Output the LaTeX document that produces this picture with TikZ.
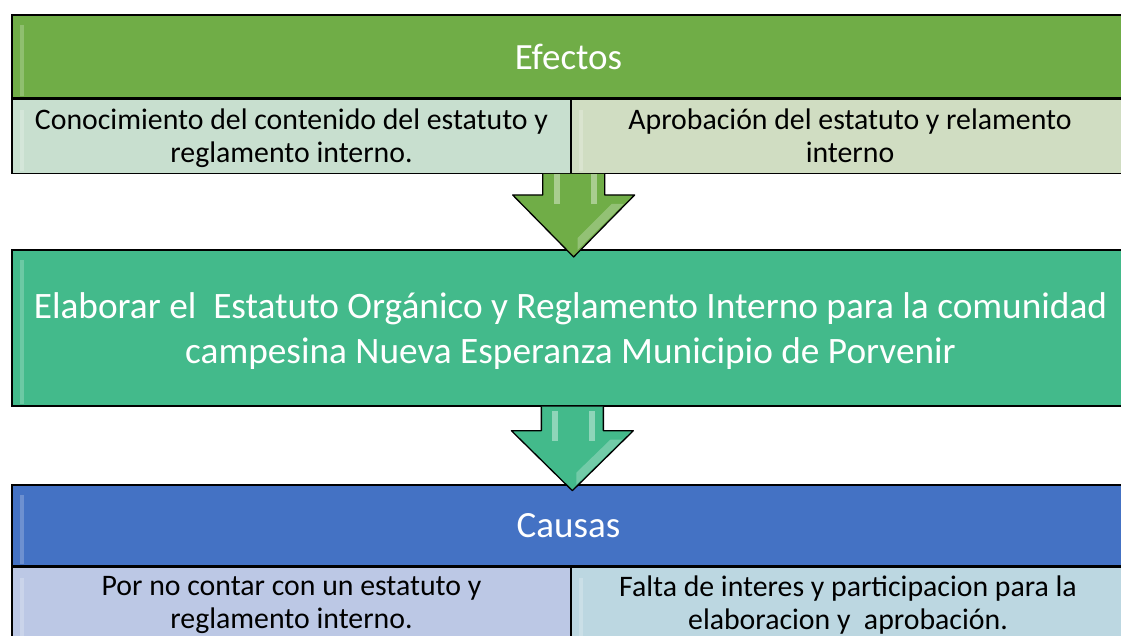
\documentclass[tikz,border=0pt]{standalone}
\usepackage{fontspec}
\setmainfont{Carlito}
\usetikzlibrary{calc}
\definecolor{ghead}{HTML}{70AD47}
\definecolor{gsubl}{HTML}{C8DFCF}
\definecolor{gsubr}{HTML}{D0DDC2}
\definecolor{teal}{HTML}{43BA8B}
\definecolor{bhead}{HTML}{4472C4}
\definecolor{bsubl}{HTML}{BCC8E5}
\definecolor{bsubr}{HTML}{BCD7E1}
\tikzset{
  cell/.style={draw=black, line width=1.3pt, inner sep=0pt, align=center},
  headcell/.style={cell, text=white, font=\fontsize{37}{42}\selectfont},
  subcell/.style={cell, text=black, font=\fontsize{29.8}{33}\selectfont},
  midtext/.style={inner sep=0pt, align=center, text=white, font=\fontsize{37.3}{45}\selectfont},
  arrowfill/.style={line width=1.3pt, line join=round},
  shine/.style={white, opacity=0.22},
}
\begin{document}
\begin{tikzpicture}[x=1pt,y=-1pt]
\useasboundingbox (0,0) rectangle (1121,635);
% Effects block
\node[headcell, fill=ghead, minimum width=1113pt, minimum height=83pt] (efh) at (568.5,56.5) {Efectos};
\node[subcell, fill=gsubl, minimum width=559pt, minimum height=74pt, anchor=north] (efl) at (efh.south -| 291.5,0) {};
\node[subcell, fill=gsubr, minimum width=554pt, minimum height=74pt, anchor=north] (efr) at (efh.south -| 848,0) {};
\node[subcell, draw=none, fill=none] (efltxt) at ($(efl.center)+(0,2)$) {Conocimiento del contenido del estatuto y\\reglamento interno.};
\node[subcell, draw=none, fill=none] (efrtxt) at ($(efr.center)+(2,-1)$) {Aprobación del estatuto y relamento\\interno};
% Middle block
\node[cell, fill=teal, minimum width=1113pt, minimum height=156pt] (mid) at (568.5,328) {};
\node[midtext] (midtxt) at ($(mid.center)+(2,3)$) {Elaborar el\ \ Estatuto Orgánico y Reglamento Interno para la comunidad\\campesina Nueva Esperanza Municipio de Porvenir};
% Causes block
\node[headcell, fill=bhead, minimum width=1113pt, minimum height=81pt] (cah) at (568.5,525.5) {Causas};
\node[subcell, fill=bsubl, minimum width=559pt, minimum height=76pt, anchor=north] (cal) at (cah.south -| 291.5,0) {Por no contar con un estatuto y\\reglamento interno.};
\node[subcell, fill=bsubr, minimum width=554pt, minimum height=76pt, anchor=north] (car) at (cah.south -| 848,0) {Falta de interes y participacion para la\\elaboracion y\ \ aprobación.};
% bevel highlights
\foreach \n in {efh,efl,efr,mid,cah,cal,car}{
  \fill[shine] ($(\n.north west)+(9,11)$) rectangle ($(\n.south west)+(13,-3)$);
}
% Arrow 1
\coordinate (a1) at ($(efl.south east)+(2,0)$);
\fill[ghead] ($(a1)+(-31,0)$) -- ($(a1)+(-31,21)$) -- ($(a1)+(-61,21)$) -- ($(a1)+(0,83)$) -- ($(a1)+(61,21)$) -- ($(a1)+(31,21)$) -- ($(a1)+(31,0)$) -- cycle;
\fill[white, opacity=0.4] ($(a1)+(-20,0)$) rectangle ($(a1)+(-14,30)$);
\fill[white, opacity=0.4] ($(a1)+(17,0)$) rectangle ($(a1)+(23,30)$);
\fill[white, opacity=0.25] ($(a1)+(38,30)$) -- ($(a1)+(50,30)$) -- ($(a1)+(4,76)$) -- ($(a1)+(4,64)$) -- cycle;
\draw[arrowfill] ($(a1)+(-31,0)$) -- ($(a1)+(-31,21)$) -- ($(a1)+(-61,21)$) -- ($(a1)+(0,83)$) -- ($(a1)+(61,21)$) -- ($(a1)+(31,21)$) -- ($(a1)+(31,0)$);
% Arrow 2
\coordinate (a2) at ($(mid.south west)+(561,0)$);
\fill[teal] ($(a2)+(-31,0)$) -- ($(a2)+(-31,24)$) -- ($(a2)+(-61,24)$) -- ($(a2)+(0,84)$) -- ($(a2)+(61,24)$) -- ($(a2)+(31,24)$) -- ($(a2)+(31,0)$) -- cycle;
\fill[white, opacity=0.4] ($(a2)+(-20,4)$) rectangle ($(a2)+(-14,34)$);
\fill[white, opacity=0.4] ($(a2)+(17,4)$) rectangle ($(a2)+(23,34)$);
\fill[white, opacity=0.25] ($(a2)+(38,33)$) -- ($(a2)+(50,33)$) -- ($(a2)+(4,78)$) -- ($(a2)+(4,66)$) -- cycle;
\draw[arrowfill] ($(a2)+(-31,0)$) -- ($(a2)+(-31,24)$) -- ($(a2)+(-61,24)$) -- ($(a2)+(0,84)$) -- ($(a2)+(61,24)$) -- ($(a2)+(31,24)$) -- ($(a2)+(31,0)$);
\end{tikzpicture}
\end{document}
